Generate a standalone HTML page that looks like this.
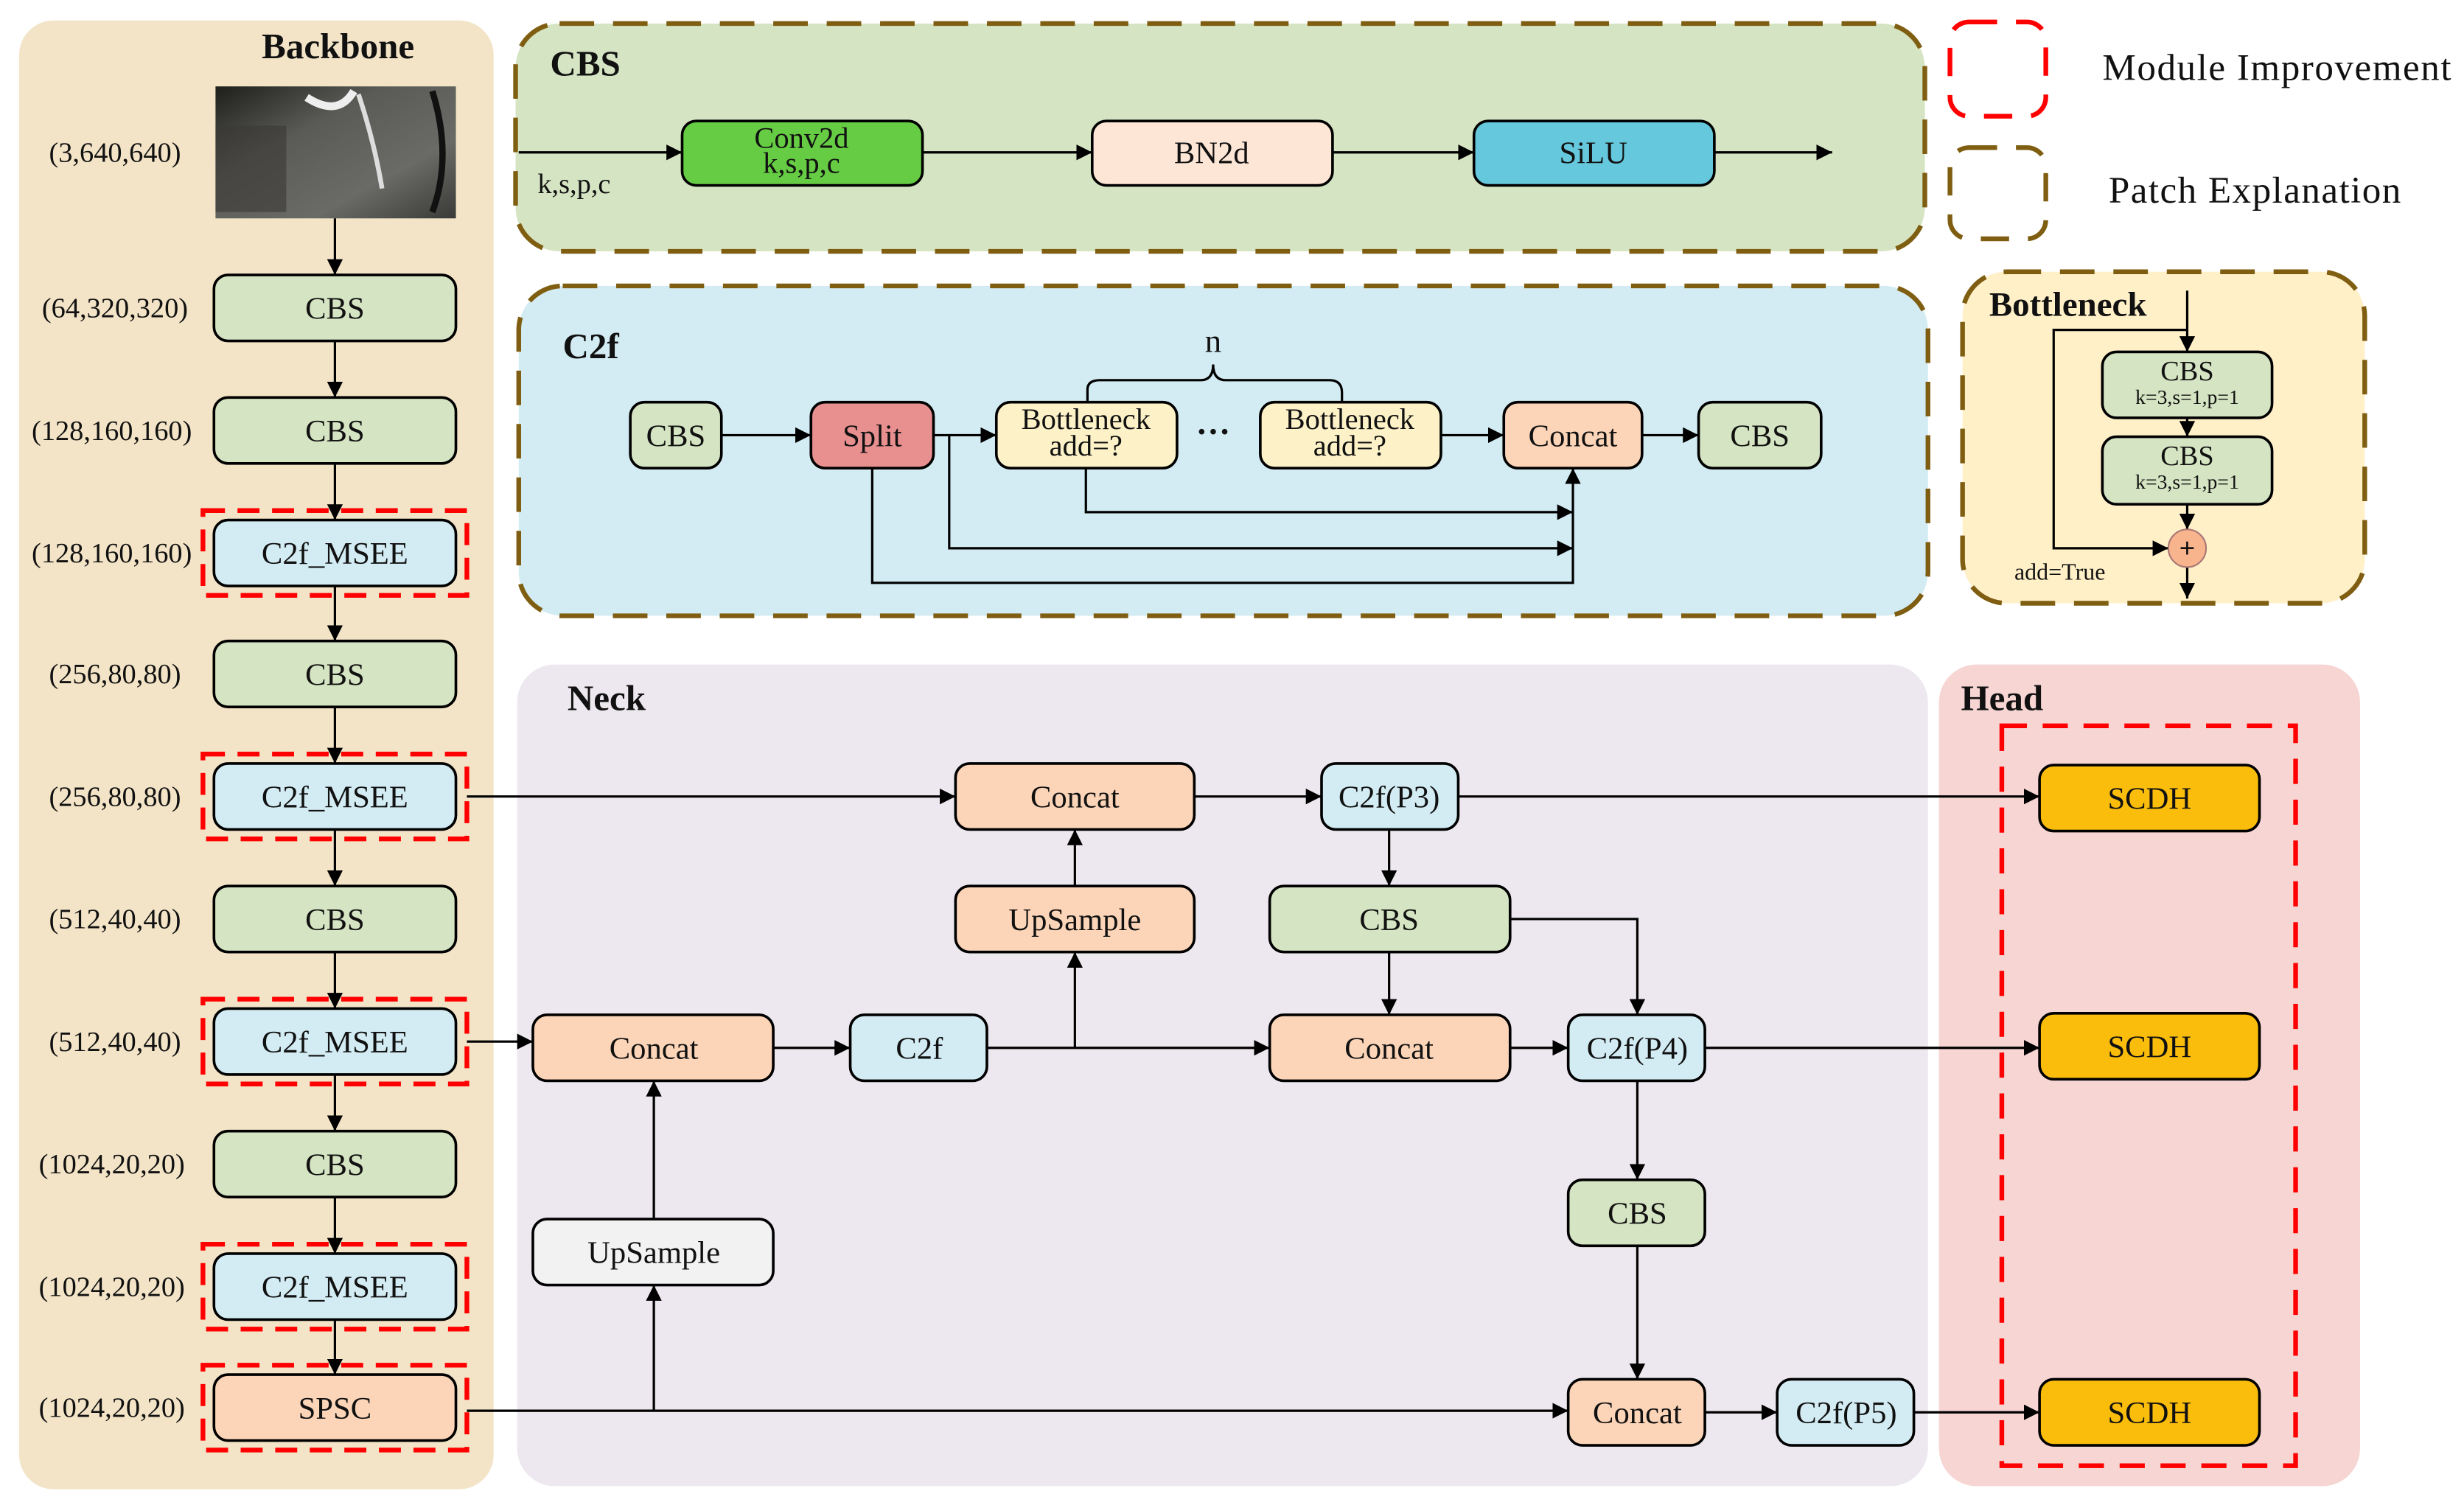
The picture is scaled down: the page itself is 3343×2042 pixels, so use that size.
<!DOCTYPE html>
<html><head><meta charset="utf-8"><style>
html,body{margin:0;padding:0;background:#fff;}
svg{display:block;}
text{font-family:"Liberation Serif",serif;fill:#111;}
</style></head><body>
<svg width="3343" height="2042" viewBox="0 0 1568 958" xmlns="http://www.w3.org/2000/svg" font-family="Liberation Serif, serif">
<defs>
<marker id="a" viewBox="0 0 10 10" refX="10" refY="5" markerWidth="10" markerHeight="10" orient="auto" markerUnits="userSpaceOnUse"><path d="M0,0 L10,5 L0,10 z" fill="#000"/></marker>
<linearGradient id="img" x1="0" y1="0" x2="1" y2="1"><stop offset="0" stop-color="#1e1e1a"/><stop offset="0.35" stop-color="#5a5a56"/><stop offset="0.7" stop-color="#6a6a66"/><stop offset="1" stop-color="#3a3a38"/></linearGradient>
</defs>
<!-- panels -->
<rect x="12" y="13" width="302" height="935" rx="22" fill="#f3e4c7"/>
<rect x="328" y="15" width="897" height="145" rx="28" fill="#d5e4c2" stroke="#7f5e12" stroke-width="3" stroke-dasharray="22,12"/>
<rect x="330" y="182" width="897" height="210" rx="28" fill="#d3ecf3" stroke="#7f5e12" stroke-width="3" stroke-dasharray="22,12"/>
<rect x="1249" y="173" width="256" height="211" rx="28" fill="#fff0c8" stroke="#7f5e12" stroke-width="3" stroke-dasharray="22,12"/>
<rect x="1241" y="14" width="61" height="60" rx="12" fill="none" stroke="#f00" stroke-width="3" stroke-dasharray="18,12"/>
<rect x="1241" y="94" width="61" height="58" rx="12" fill="none" stroke="#7f5e12" stroke-width="3" stroke-dasharray="18,12"/>
<text x="1338" y="51" font-size="24" textLength="222">Module Improvement</text>
<text x="1342" y="129" font-size="24" textLength="186">Patch Explanation</text>
<rect x="329" y="423" width="898" height="523" rx="24" fill="#ede8ef"/>
<rect x="1234" y="423" width="268" height="523" rx="24" fill="#f6d5d3"/>
<rect x="1274" y="462" width="187" height="471" fill="none" stroke="#f00" stroke-width="3" stroke-dasharray="16,10"/>

<text x="215" y="37" font-size="23" font-weight="bold" text-anchor="middle">Backbone</text>
<text x="350" y="48" font-size="23" font-weight="bold">CBS</text>
<text x="358" y="228" font-size="23" font-weight="bold">C2f</text>
<text x="1266" y="201" font-size="22" font-weight="bold">Bottleneck</text>
<text x="361" y="452" font-size="23" font-weight="bold">Neck</text>
<text x="1248" y="452" font-size="23" font-weight="bold">Head</text>

<!-- image -->
<rect x="137" y="55" width="153" height="84" fill="url(#img)"/>
<path d="M228,60 Q238,90 243,120" stroke="#ddd" stroke-width="3" fill="none"/>
<path d="M195,62 Q215,75 225,58" stroke="#eee" stroke-width="5" fill="none"/>
<path d="M275,58 Q288,100 275,135" stroke="#111" stroke-width="4" fill="none"/>
<rect x="137" y="80" width="45" height="55" fill="#3a3836" opacity="0.6"/>

<!-- connectors -->
<g stroke="#000" stroke-width="1.5" fill="none" marker-end="url(#a)">
<line x1="213" y1="139" x2="213" y2="175"/>
<line x1="213" y1="217" x2="213" y2="253"/>
<line x1="213" y1="295" x2="213" y2="331"/>
<line x1="213" y1="373" x2="213" y2="408"/>
<line x1="213" y1="450" x2="213" y2="486"/>
<line x1="213" y1="528" x2="213" y2="564"/>
<line x1="213" y1="606" x2="213" y2="642"/>
<line x1="213" y1="684" x2="213" y2="720"/>
<line x1="213" y1="762" x2="213" y2="798"/>
<line x1="213" y1="840" x2="213" y2="875"/>
<line x1="330" y1="97" x2="434" y2="97"/>
<line x1="587" y1="97" x2="695" y2="97"/>
<line x1="848" y1="97" x2="938" y2="97"/>
<line x1="1091" y1="97" x2="1166" y2="97"/>
<line x1="459" y1="277" x2="516" y2="277"/>
<line x1="594" y1="277" x2="634" y2="277"/>
<line x1="917" y1="277" x2="957" y2="277"/>
<line x1="1045" y1="277" x2="1081" y2="277"/>
<polyline points="555,298 555,371 1001,371 1001,298"/>
<polyline points="604,277 604,349 1001,349"/>
<polyline points="691,298 691,326 1001,326"/>
<line x1="1392" y1="185" x2="1392" y2="224"/>
<line x1="1392" y1="266" x2="1392" y2="278"/>
<line x1="1392" y1="321" x2="1392" y2="337"/>
<polyline points="1392,210 1307,210 1307,349 1380,349"/>
<line x1="1392" y1="361" x2="1392" y2="381"/>
<line x1="297" y1="507" x2="608" y2="507"/>
<line x1="760" y1="507" x2="841" y2="507"/>
<line x1="928" y1="507" x2="1298" y2="507"/>
<line x1="884" y1="528" x2="884" y2="564"/>
<polyline points="961,585 1042,585 1042,646"/>
<line x1="884" y1="606" x2="884" y2="646"/>
<line x1="297" y1="663" x2="339" y2="663"/>
<line x1="492" y1="667" x2="541" y2="667"/>
<line x1="628" y1="667" x2="808" y2="667"/>
<line x1="684" y1="667" x2="684" y2="606"/>
<line x1="684" y1="564" x2="684" y2="528"/>
<line x1="961" y1="667" x2="998" y2="667"/>
<line x1="1085" y1="667" x2="1298" y2="667"/>
<line x1="1042" y1="688" x2="1042" y2="751"/>
<line x1="1042" y1="793" x2="1042" y2="878"/>
<line x1="297" y1="898" x2="998" y2="898"/>
<line x1="416" y1="898" x2="416" y2="818"/>
<line x1="416" y1="776" x2="416" y2="688"/>
<line x1="1085" y1="899" x2="1131" y2="899"/>
<line x1="1218" y1="899" x2="1298" y2="899"/>
</g>
<path d="M692,256 L692,248 Q692,242 700,242 L764,242 Q772,242 772,232 Q772,242 780,242 L846,242 Q854,242 854,250 L854,256" stroke="#000" stroke-width="1.5" fill="none"/>
<text x="772" y="224" font-size="21" text-anchor="middle">n</text>
<text x="772" y="282" font-size="22" text-anchor="middle" font-weight="bold">···</text>
<text x="342" y="123" font-size="18">k,s,p,c</text>
<text x="1282" y="369" font-size="15">add=True</text>

<!-- boxes -->
<g stroke="#000" stroke-width="1.7">
<g fill="#d5e4c2">
<rect x="136" y="175" width="154" height="42" rx="9"/>
<rect x="136" y="253" width="154" height="42" rx="9"/>
<rect x="136" y="408" width="154" height="42" rx="9"/>
<rect x="136" y="564" width="154" height="42" rx="9"/>
<rect x="136" y="720" width="154" height="42" rx="9"/>
<rect x="401" y="256" width="58" height="42" rx="9"/>
<rect x="1081" y="256" width="78" height="42" rx="9"/>
<rect x="1338" y="224" width="108" height="42" rx="9"/>
<rect x="1338" y="278" width="108" height="43" rx="9"/>
<rect x="808" y="564" width="153" height="42" rx="9"/>
<rect x="998" y="751" width="87" height="42" rx="9"/>
</g>
<g fill="#d3ecf3">
<rect x="136" y="331" width="154" height="42" rx="9"/>
<rect x="136" y="486" width="154" height="42" rx="9"/>
<rect x="136" y="642" width="154" height="42" rx="9"/>
<rect x="136" y="798" width="154" height="42" rx="9"/>
<rect x="841" y="486" width="87" height="42" rx="9"/>
<rect x="541" y="646" width="87" height="42" rx="9"/>
<rect x="998" y="646" width="87" height="42" rx="9"/>
<rect x="1131" y="878" width="87" height="42" rx="9"/>
</g>
<g fill="#fcd5b8">
<rect x="136" y="875" width="154" height="42" rx="9"/>
<rect x="957" y="256" width="88" height="42" rx="9"/>
<rect x="608" y="486" width="152" height="42" rx="9"/>
<rect x="608" y="564" width="152" height="42" rx="9"/>
<rect x="339" y="646" width="153" height="42" rx="9"/>
<rect x="808" y="646" width="153" height="42" rx="9"/>
<rect x="998" y="878" width="87" height="42" rx="9"/>
</g>
<rect x="339" y="776" width="153" height="42" rx="9" fill="#f2f2f2"/>
<rect x="434" y="77" width="153" height="41" rx="9" fill="#66cc44"/>
<rect x="695" y="77" width="153" height="41" rx="9" fill="#fde6d6"/>
<rect x="938" y="77" width="153" height="41" rx="9" fill="#66c8dc"/>
<rect x="516" y="256" width="78" height="42" rx="9" fill="#e88f8f"/>
<rect x="634" y="256" width="115" height="42" rx="9" fill="#fdf1c8"/>
<rect x="802" y="256" width="115" height="42" rx="9" fill="#fdf1c8"/>
<g fill="#fbbd0c">
<rect x="1298" y="487" width="140" height="42" rx="9"/>
<rect x="1298" y="645" width="140" height="42" rx="9"/>
<rect x="1298" y="878" width="140" height="42" rx="9"/>
</g>
<circle cx="1392" cy="349" r="12" fill="#f8b48c" stroke="#a77" stroke-width="1"/>
</g>
<text x="1392" y="355" font-size="18" text-anchor="middle" font-weight="bold">+</text>

<g fill="none" stroke="#f00" stroke-width="3" stroke-dasharray="14,8">
<rect x="129" y="325" width="168" height="54"/>
<rect x="129" y="480" width="168" height="54"/>
<rect x="129" y="636" width="168" height="54"/>
<rect x="129" y="792" width="168" height="54"/>
<rect x="129" y="869" width="168" height="54"/>
</g>

<g font-size="20" text-anchor="middle">
<text x="213" y="203">CBS</text>
<text x="213" y="281">CBS</text>
<text x="213" y="359">C2f_MSEE</text>
<text x="213" y="436">CBS</text>
<text x="213" y="514">C2f_MSEE</text>
<text x="213" y="592">CBS</text>
<text x="213" y="670">C2f_MSEE</text>
<text x="213" y="748">CBS</text>
<text x="213" y="826">C2f_MSEE</text>
<text x="213" y="903">SPSC</text>
<text x="510" y="94" font-size="19">Conv2d</text>
<text x="510" y="110" font-size="19">k,s,p,c</text>
<text x="771" y="104">BN2d</text>
<text x="1014" y="104">SiLU</text>
<text x="430" y="284">CBS</text>
<text x="555" y="284">Split</text>
<text x="691" y="273" font-size="19">Bottleneck</text>
<text x="691" y="290" font-size="19">add=?</text>
<text x="859" y="273" font-size="19">Bottleneck</text>
<text x="859" y="290" font-size="19">add=?</text>
<text x="1001" y="284">Concat</text>
<text x="1120" y="284">CBS</text>
<text x="1392" y="242" font-size="18">CBS</text>
<text x="1392" y="257" font-size="13">k=3,s=1,p=1</text>
<text x="1392" y="296" font-size="18">CBS</text>
<text x="1392" y="311" font-size="13">k=3,s=1,p=1</text>
<text x="684" y="514">Concat</text>
<text x="684" y="592">UpSample</text>
<text x="884" y="514">C2f(P3)</text>
<text x="884" y="592">CBS</text>
<text x="416" y="674">Concat</text>
<text x="585" y="674">C2f</text>
<text x="884" y="674">Concat</text>
<text x="1042" y="674">C2f(P4)</text>
<text x="416" y="804">UpSample</text>
<text x="1042" y="779">CBS</text>
<text x="1042" y="906">Concat</text>
<text x="1175" y="906">C2f(P5)</text>
<text x="1368" y="515">SCDH</text>
<text x="1368" y="673">SCDH</text>
<text x="1368" y="906">SCDH</text>
</g>
<g font-size="18" text-anchor="middle">
<text x="73" y="103">(3,640,640)</text>
<text x="73" y="202">(64,320,320)</text>
<text x="71" y="280">(128,160,160)</text>
<text x="71" y="358">(128,160,160)</text>
<text x="73" y="435">(256,80,80)</text>
<text x="73" y="513">(256,80,80)</text>
<text x="73" y="591">(512,40,40)</text>
<text x="73" y="669">(512,40,40)</text>
<text x="71" y="747">(1024,20,20)</text>
<text x="71" y="825">(1024,20,20)</text>
<text x="71" y="902">(1024,20,20)</text>
</g>
</svg>
</body></html>
